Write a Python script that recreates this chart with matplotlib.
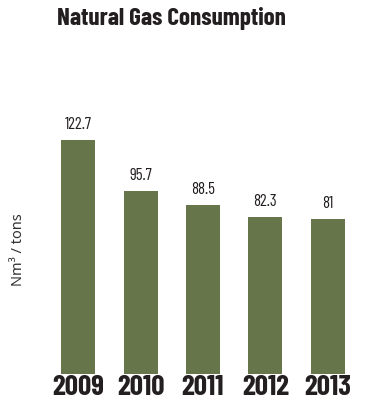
import matplotlib
matplotlib.use("Agg")
import matplotlib.pyplot as plt

years = ["2009", "2010", "2011", "2012", "2013"]
consumption = [122.7, 95.7, 88.5, 82.3, 81]

BAR_COLOR = "#66754a"
TEXT_COLOR = "#231f20"
NARROW = ["Barlow Condensed", "DejaVu Sans"]
PLAIN = ["Noto Sans", "DejaVu Sans"]


def do_plot():
    fig = plt.figure(figsize=(3.69, 4.01), dpi=100)
    ax = fig.add_axes([47 / 369, 1 - 374 / 401, 312 / 369, 248 / 401])

    xs = range(len(years))
    bars = ax.bar(xs, consumption, width=0.545, color=BAR_COLOR)

    for bar, val in zip(bars, consumption):
        ax.annotate(
            f"{val:g}",
            (bar.get_x() + bar.get_width() / 2, bar.get_height()),
            xytext=(0, 6),
            textcoords="offset points",
            ha="center",
            va="bottom",
            fontsize=12,
            family=NARROW,
            color=TEXT_COLOR,
        )

    ax.set_xlim(-0.5, len(years) - 0.5)
    ax.set_ylim(0, 130)
    ax.set_xticks(list(xs))
    ax.set_xticklabels(years, fontsize=21, fontweight="bold", family=NARROW,
                       color=TEXT_COLOR)
    ax.tick_params(axis="x", length=0, pad=1)
    ax.set_yticks([])
    for side in ax.spines.values():
        side.set_visible(False)

    ax.set_ylabel("Nm³ / tons", fontsize=10.5, family=PLAIN, color="#333333",
                  labelpad=15)

    fig.text(171 / 369, 1 - 7 / 401, "Natural Gas Consumption", ha="center",
             va="top", fontsize=18, fontweight="bold", family=NARROW,
             color=TEXT_COLOR)

    fig.savefig("out.png", dpi=100)


if __name__ == "__main__":
    do_plot()
